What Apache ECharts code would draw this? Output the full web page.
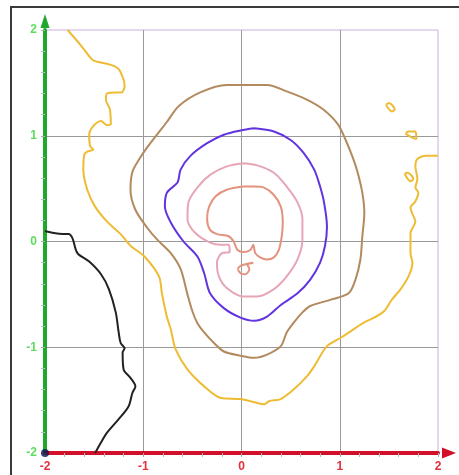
<!DOCTYPE html>
<html lang="en">
<head>
    <meta charset="UTF-8">
    <title>contours</title>
    <style>
        body { margin: 0; background: #fff; }
    </style>
</head>
<body>
<div id="main" style="width: 459px;height:475px;"></div>

<script src="https://cdn.jsdelivr.net/npm/echarts@6/dist/echarts.min.js"></script>
<script>
    // contour lines as [x, y]
    var blackCurve = [[-2.0,0.10],[-1.91,0.08],[-1.82,0.07],[-1.76,0.07],[-1.72,0.03],[-1.67,-0.11],[-1.55,-0.19],
        [-1.43,-0.31],[-1.35,-0.45],[-1.28,-0.67],[-1.25,-0.86],[-1.23,-0.96],[-1.19,-1.01],[-1.21,-1.05],
        [-1.20,-1.21],[-1.13,-1.29],[-1.08,-1.37],[-1.11,-1.43],[-1.15,-1.56],[-1.25,-1.68],[-1.37,-1.81],
        [-1.43,-1.90],[-1.49,-2.0]];

    var yellowCurve = [[-1.77,2.0],[-1.64,1.86],[-1.52,1.72],[-1.47,1.70],[-1.33,1.67],[-1.25,1.63],[-1.20,1.53],
        [-1.19,1.47],[-1.22,1.41],[-1.28,1.41],[-1.37,1.40],[-1.38,1.34],[-1.34,1.25],[-1.33,1.11],[-1.37,1.10],
        [-1.43,1.14],[-1.52,1.08],[-1.55,1.01],[-1.54,0.90],[-1.51,0.87],[-1.57,0.85],[-1.60,0.82],[-1.61,0.68],
        [-1.57,0.49],[-1.49,0.33],[-1.37,0.19],[-1.23,0.07],[-1.13,-0.04],[-0.99,-0.14],[-0.84,-0.33],
        [-0.81,-0.49],[-0.76,-0.71],[-0.72,-0.83],[-0.67,-1.02],[-0.55,-1.21],[-0.38,-1.37],[-0.21,-1.48],
        [-0.01,-1.49],[0.13,-1.52],[0.23,-1.54],[0.28,-1.51],[0.40,-1.49],[0.53,-1.40],[0.67,-1.27],[0.74,-1.18],
        [0.87,-0.99],[1.01,-0.91],[1.11,-0.85],[1.24,-0.77],[1.35,-0.72],[1.45,-0.66],[1.53,-0.55],[1.62,-0.45],
        [1.70,-0.33],[1.74,-0.20],[1.72,-0.11],[1.72,0.02],[1.72,0.08],[1.77,0.19],[1.74,0.26],[1.72,0.32],
        [1.77,0.38],[1.80,0.46],[1.77,0.51],[1.79,0.59],[1.77,0.71],[1.79,0.78],[1.89,0.81],[2.0,0.81]];
    var yellowLoopA = [[1.47,1.29],[1.50,1.31],[1.56,1.25],[1.53,1.23],[1.47,1.29]];
    var yellowLoopB = [[1.67,1.02],[1.70,1.04],[1.77,1.04],[1.78,0.97],[1.74,0.98],[1.67,1.02]];
    var yellowLoopC = [[1.66,0.64],[1.69,0.65],[1.75,0.59],[1.72,0.57],[1.66,0.64]];

    var brownCurve = [[0.02,1.48],[0.26,1.48],[0.46,1.42],[0.67,1.34],[0.83,1.25],[0.98,1.11],[1.06,0.96],
        [1.13,0.80],[1.18,0.66],[1.23,0.46],[1.25,0.27],[1.23,0.05],[1.21,-0.17],[1.16,-0.36],[1.09,-0.49],
        [0.91,-0.55],[0.70,-0.61],[0.62,-0.67],[0.53,-0.77],[0.46,-0.86],[0.40,-0.99],[0.26,-1.07],[0.13,-1.10],
        [-0.01,-1.08],[-0.18,-1.04],[-0.28,-0.96],[-0.38,-0.86],[-0.45,-0.77],[-0.50,-0.66],[-0.55,-0.50],
        [-0.62,-0.26],[-0.72,-0.11],[-0.86,0.02],[-0.96,0.13],[-1.08,0.30],[-1.13,0.49],[-1.11,0.66],
        [-1.04,0.78],[-0.96,0.89],[-0.86,1.01],[-0.76,1.13],[-0.64,1.28],[-0.42,1.41],[-0.15,1.48],[0.02,1.48]];

    var blueCurve = [[0.13,1.07],[-0.01,1.05],[-0.18,1.01],[-0.35,0.93],[-0.52,0.81],[-0.62,0.68],[-0.65,0.56],
        [-0.76,0.46],[-0.78,0.33],[-0.72,0.18],[-0.59,0.00],[-0.45,-0.14],[-0.38,-0.30],[-0.32,-0.49],
        [-0.18,-0.63],[-0.01,-0.72],[0.13,-0.75],[0.26,-0.71],[0.40,-0.60],[0.57,-0.49],[0.70,-0.36],[0.80,-0.20],
        [0.85,-0.04],[0.87,0.14],[0.84,0.37],[0.80,0.52],[0.74,0.68],[0.63,0.84],[0.50,0.96],[0.33,1.04],[0.13,1.07]];

    var pinkCurve = [[0.02,0.74],[-0.15,0.71],[-0.32,0.63],[-0.45,0.51],[-0.54,0.37],[-0.55,0.21],[-0.47,0.08],
        [-0.32,-0.01],[-0.21,-0.03],[-0.13,-0.03],[-0.12,-0.10],[-0.20,-0.11],[-0.25,-0.20],[-0.23,-0.33],
        [-0.15,-0.44],[0.02,-0.52],[0.16,-0.52],[0.33,-0.45],[0.46,-0.33],[0.57,-0.17],[0.62,0.02],[0.62,0.21],
        [0.57,0.37],[0.46,0.52],[0.33,0.65],[0.16,0.72],[0.02,0.74]];

    var salmonCurve = [[0.02,0.52],[-0.15,0.49],[-0.26,0.43],[-0.33,0.33],[-0.35,0.21],[-0.32,0.11],[-0.25,0.07],
        [-0.13,0.05],[-0.08,0.00],[-0.04,-0.08],[0.02,-0.10],[0.09,-0.08],[0.12,-0.03],[0.14,-0.11],[0.19,-0.15],
        [0.26,-0.17],[0.33,-0.15],[0.38,-0.08],[0.41,0.05],[0.42,0.18],[0.40,0.33],[0.33,0.44],[0.23,0.51],
        [0.13,0.52],[0.02,0.52]];
    var salmonLoop = [[-0.04,-0.26],[-0.01,-0.23],[0.06,-0.21],[0.12,-0.20],[0.06,-0.22],[0.08,-0.26],
        [0.04,-0.31],[-0.01,-0.30],[-0.04,-0.26]];

    var originPoint = [[-2, -2]];

    var lineSeries = function (data, color) {
        return {
            type: 'line',
            data: data,
            showSymbol: false,
            smooth: 0.3,
            silent: true,
            lineStyle: { color: color, width: 2 },
            z: 3
        };
    };

    var chart = echarts.init(document.getElementById('main'));
    chart.setOption({
        backgroundColor: '#fff',
        animation: false,
        graphic: [{
            type: 'rect',
            shape: { x: 11, y: 7, width: 470, height: 490 },
            style: { fill: null, stroke: '#3a3a3a', lineWidth: 2 },
            silent: true
        }],
        grid: {
            left: 45, right: 21, top: 30, bottom: 22,
            show: true,
            borderColor: '#c9b0dc',
            borderWidth: 1
        },
        xAxis: {
            type: 'value',
            min: -2, max: 2, interval: 1,
            axisLine: {
                onZero: false,
                lineStyle: { color: '#d2102a', width: 4 },
                symbol: ['none', 'triangle'],
                symbolSize: [11, 14],
                symbolOffset: [0, 11]
            },
            axisTick: { show: true, length: 4, lineStyle: { color: '#aaa' } },
            minorTick: { show: true, splitNumber: 5, length: 4, lineStyle: { color: '#bbb' } },
            axisLabel: { color: '#e3303c', fontWeight: 'bold', fontSize: 12, margin: 8, fontFamily: 'Liberation Sans' },
            splitLine: { show: true, showMinLine: false, showMaxLine: false, lineStyle: { color: '#9a9a9a' } }
        },
        yAxis: {
            type: 'value',
            min: -2, max: 2, interval: 1,
            axisLine: {
                onZero: false,
                lineStyle: { color: '#20a82c', width: 4 },
                symbol: ['none', 'triangle'],
                symbolSize: [9, 14],
                symbolOffset: [0, 9]
            },
            axisTick: { show: true, length: 4, lineStyle: { color: '#aaa' } },
            minorTick: { show: true, splitNumber: 5, length: 4, lineStyle: { color: '#bbb' } },
            axisLabel: { color: '#5fdc5f', fontWeight: 'bold', fontSize: 12, margin: 8, fontFamily: 'Liberation Sans' },
            splitLine: { show: true, showMinLine: false, showMaxLine: false, lineStyle: { color: '#9a9a9a' } }
        },
        series: [
            lineSeries(yellowCurve, '#eebc34'),
            lineSeries(yellowLoopA, '#eebc34'),
            lineSeries(yellowLoopB, '#eebc34'),
            lineSeries(yellowLoopC, '#eebc34'),
            lineSeries(brownCurve, '#b38a5e'),
            lineSeries(blueCurve, '#6234df'),
            lineSeries(pinkCurve, '#e6a6b6'),
            lineSeries(salmonCurve, '#e3937e'),
            lineSeries(salmonLoop, '#e3937e'),
            lineSeries(blackCurve, '#222'),
            {
                type: 'scatter',
                data: originPoint,
                symbolSize: 8,
                itemStyle: { color: '#0d1650' },
                silent: true,
                z: 10
            }
        ]
    });
</script>
</body>
</html>
